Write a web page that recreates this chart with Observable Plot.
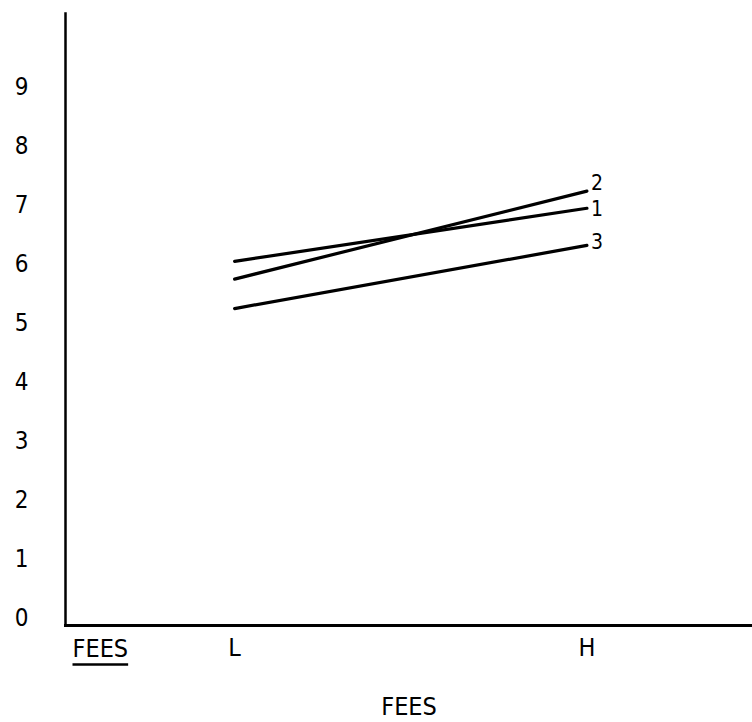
<!DOCTYPE html>
<html>
<head>
<meta charset="utf-8">
<script src="https://cdn.jsdelivr.net/npm/d3@7"></script>
<script src="https://cdn.jsdelivr.net/npm/@observablehq/plot@0.6"></script>
<style>
  html, body { margin: 0; padding: 0; background: #fff; }
  svg { display: block; }
</style>
</head>
<body>
<div id="chart"></div>
<script>
// ---- data ----
const categories = ["L", "H"];          // FEES levels
const series1 = [6.05, 6.95];
const series2 = [5.75, 7.24];
const series3 = [5.25, 6.32];
const seriesNames = ["1", "2", "3"];
const yTicks = [0, 1, 2, 3, 4, 5, 6, 7, 8, 9];
const xTitle = "FEES";
const rowHeader = "FEES";

const allSeries = [series1, series2, series3];
const rows = [];
allSeries.forEach((vals, s) => vals.forEach((v, i) => rows.push({series: seriesNames[s], x: i, value: v})));
const ends = rows.filter(d => d.x === categories.length - 1);

const font = "'Liberation Sans Narrow','DejaVu Sans Condensed','Roboto Condensed','Liberation Sans',sans-serif";
const labelNudge = {"1": 1, "2": -8, "3": -3};

const chart = Plot.plot({
  width: 752,
  height: 722,
  marginTop: 13,
  marginBottom: 97,
  marginLeft: 65,
  marginRight: 0,
  style: {fontFamily: font, color: "#000", background: "#fff", overflow: "visible"},
  x: {domain: [-0.48, 1.47]},
  y: {domain: [-0.12, 10.25]},
  marks: [
    Plot.axisY({ticks: yTicks, tickSize: 0, tickPadding: 37, fontSize: 24, label: null}),
    Plot.axisX({ticks: categories.map((_, i) => i), tickFormat: i => categories[i], tickSize: 0, tickPadding: 13, fontSize: 25, label: null}),
    Plot.frame({anchor: "left", strokeWidth: 2.5, stroke: "#000"}),
    Plot.frame({anchor: "bottom", strokeWidth: 3, stroke: "#000"}),
    Plot.line(rows, {x: "x", y: "value", z: "series", stroke: "#000", strokeWidth: 3.2}),
    ...seriesNames.map(name => Plot.text(ends.filter(d => d.series === name), {
      x: "x", y: "value", text: "series", textAnchor: "start", dx: 4, dy: labelNudge[name], fontSize: 21, fill: "#000"
    })),
    Plot.text([rowHeader], {frameAnchor: "bottom-left", textAnchor: "start", dx: 7, dy: 31, fontSize: 25, fill: "#000"}),
    Plot.text([xTitle], {frameAnchor: "bottom", dy: 89, fontSize: 25, fill: "#000"})
  ]
});
document.getElementById("chart").appendChild(chart);

// underline the row header (the leftmost "FEES" text), measured from its rendered box
const svgEl = chart.tagName.toLowerCase() === "svg" ? chart : chart.querySelector("svg");
const svgRect = svgEl.getBoundingClientRect();
const headers = Array.from(svgEl.querySelectorAll("text"))
  .filter(t => t.textContent.trim() === rowHeader)
  .map(t => ({t, r: t.getBoundingClientRect()}))
  .sort((a, b) => a.r.left - b.r.left);
if (headers.length) {
  const r = headers[0].r;
  const yLine = r.bottom - svgRect.top + 2;
  d3.select(svgEl).append("line")
    .attr("x1", r.left - svgRect.left).attr("x2", r.right - svgRect.left)
    .attr("y1", yLine).attr("y2", yLine)
    .attr("stroke", "#000").attr("stroke-width", 2.5);
}
</script>
</body>
</html>
